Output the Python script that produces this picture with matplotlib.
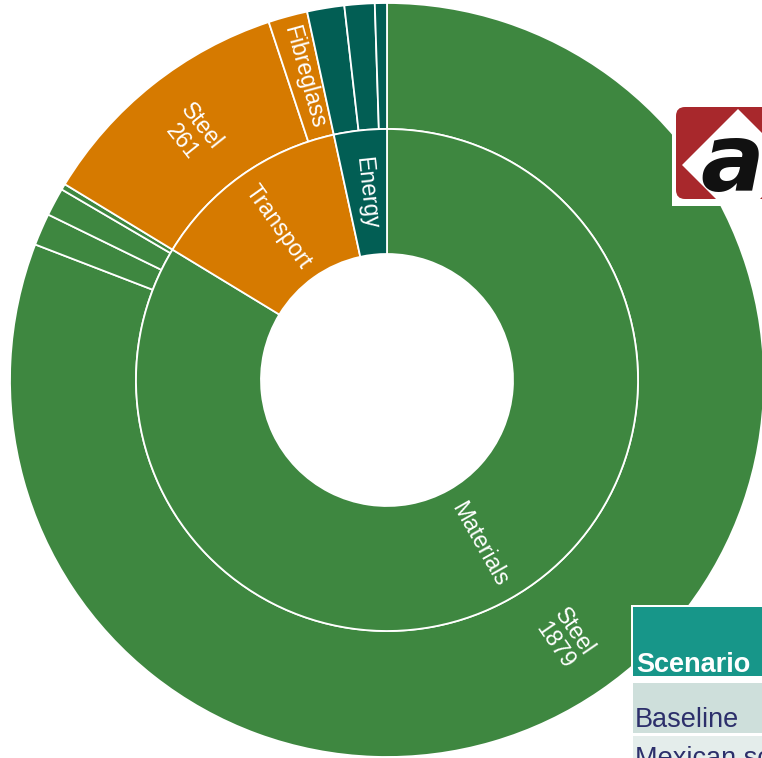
import numpy as np
import matplotlib
matplotlib.use("Agg")
import matplotlib.pyplot as plt
from matplotlib.patches import Rectangle, FancyBboxPatch, Polygon

plt.rcParams['font.family'] = ['Liberation Sans', 'DejaVu Sans']

# sunburst data
parents = ["Materials", "Transport", "Energy"]
parent_colors = ["#3e8740", "#d67a00", "#025e54"]

child_parent = ["Materials", "Materials", "Materials", "Materials",
                "Transport", "Transport",
                "Energy", "Energy", "Energy"]
child_labels = ["Steel", "Copper", "Aluminium", "Concrete",
                "Steel", "Fibreglass",
                "Electricity", "Diesel", "Gas"]
child_values = [1879, 32, 28, 6, 261, 39, 37, 30, 12]
child_text = ["full", "none", "none", "none", "full", "name", "none", "none", "none"]

parent_values = [sum(v for p, v in zip(child_parent, child_values) if p == name)
                 for name in parents]
child_colors = [parent_colors[parents.index(p)] for p in child_parent]

W, H = 762, 758
fig = plt.figure(figsize=(W / 100, H / 100), dpi=100)
ax = fig.add_axes([0, 0, 1, 1])

cx, cy = 387, H - 380
r_out, r_mid, r_in = 377, 251, 126
edge = dict(edgecolor="white", linewidth=1.3)

ax.pie(child_values, radius=r_out, center=(cx, cy), startangle=90, counterclock=False,
       colors=child_colors, wedgeprops=dict(width=r_out - r_mid, **edge))
ax.pie(parent_values, radius=r_mid, center=(cx, cy), startangle=90, counterclock=False,
       colors=parent_colors, wedgeprops=dict(width=r_mid - r_in, **edge))


def put_label(text, frac_mid, radius, size):
    a = 360 * frac_mid  # clockwise from 12 o'clock
    x = cx + radius * np.sin(np.radians(a))
    y = cy + radius * np.cos(np.radians(a))
    rot = 90 - a if a < 180 else 270 - a
    ax.text(x, y, text, rotation=rot, rotation_mode="anchor", ha="center", va="center",
            color="white", fontsize=size, linespacing=1.05, multialignment="center")


total = sum(child_values)
cum = np.cumsum([0] + parent_values)
for i, name in enumerate(parents):
    put_label(name, (cum[i] + cum[i + 1]) / 2 / total, (r_in + r_mid) / 2, 16.5)

cum = np.cumsum([0] + child_values)
for i, lab in enumerate(child_labels):
    if child_text[i] == "none":
        continue
    txt = lab if child_text[i] == "name" else f"{lab}\n{child_values[i]}"
    put_label(txt, (cum[i] + cum[i + 1]) / 2 / total, (r_mid + r_out) / 2, 16.5)

# logo top right
ax.add_patch(Rectangle((672, H - 206), 95, 103, fc="white", ec="none", zorder=5))
red = FancyBboxPatch((676, H - 199), 100, 92, boxstyle="round,pad=0,rounding_size=9",
                     fc="#a8282c", ec="none", zorder=6)
ax.add_patch(red)
dia = Polygon([(682, H - 165), (738, H - 109), (794, H - 165), (738, H - 221)],
              closed=True, fc="white", ec="none", zorder=7)
ax.add_patch(dia)
dia.set_clip_path(red)
ax.text(700, H - 191, "a", fontsize=68, fontweight="bold", style="italic",
        family="DejaVu Sans", color="#111111", ha="left", va="baseline", zorder=8)

# table bottom right
ax.add_patch(Rectangle((631, 0), 140, H - 605, fc="white", ec="none", zorder=5))
ax.add_patch(Rectangle((633, H - 676), 140, 69, fc="#179689", ec="none", zorder=6))
ax.text(636, H - 672, "Scenario", fontsize=19.5, fontweight="bold", color="white",
        ha="left", va="baseline", zorder=7)
ax.add_patch(Rectangle((633, H - 733), 140, 50, fc="#cedfdb", ec="none", zorder=6))
ax.text(635, H - 727, "Baseline", fontsize=19.5, color="#2c2f6b",
        ha="left", va="baseline", zorder=7)
ax.add_patch(Rectangle((633, H - 780), 140, 44, fc="#e4edeb", ec="none", zorder=6))
ax.text(635, H - 766, "Mexican scenario", fontsize=19.5, color="#2c2f6b",
        ha="left", va="baseline", zorder=7)

ax.set_xlim(0, W)
ax.set_ylim(0, H)
ax.set_aspect("equal")
ax.axis("off")

fig.savefig("out.png", dpi=100)
